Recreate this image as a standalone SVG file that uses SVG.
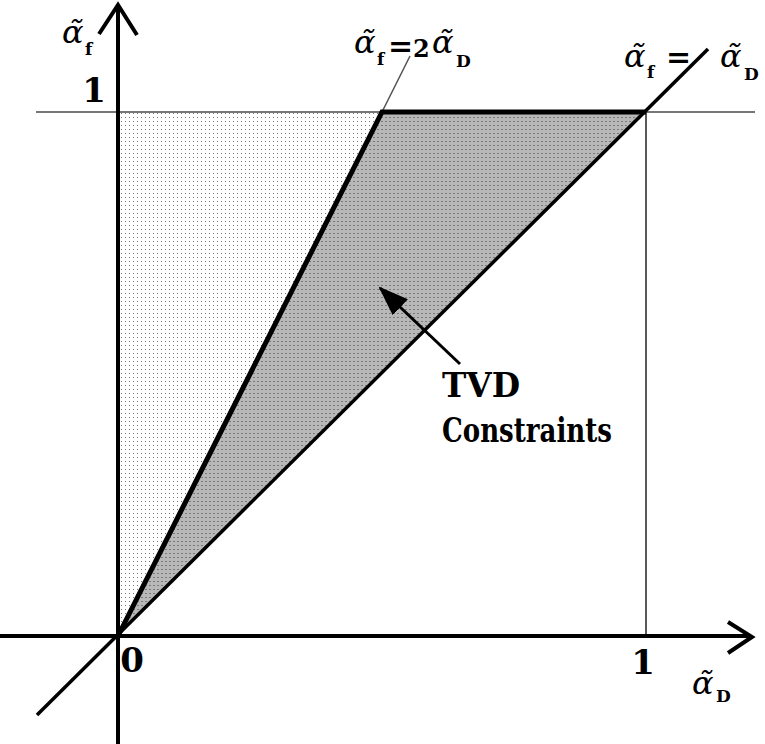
<svg xmlns="http://www.w3.org/2000/svg" width="765" height="744" viewBox="0 0 765 744">
<defs>
<style>
text{font-family:'DejaVu Serif',serif;fill:#000}
.al{font-style:italic;font-weight:normal;font-size:32px}
.sb{font-style:normal;font-weight:bold;font-size:17px}
.eq{font-style:normal;font-weight:bold;font-size:30px}
.two{font-style:normal;font-weight:bold;font-size:24px}
.num{font-weight:bold;font-size:34px}
.big{font-weight:bold;font-size:33px}
.axis{stroke:#000;stroke-width:4;fill:none}
.thick{stroke:#000;stroke-width:5;fill:none;stroke-linejoin:miter}
</style>
<pattern id="pl" width="4" height="4" patternUnits="userSpaceOnUse">
<rect width="4" height="4" fill="#ffffff"/>
<rect x="1" y="1" width="1" height="1" fill="#777"/>
</pattern>
<pattern id="pd" width="4" height="4" patternUnits="userSpaceOnUse">
<rect width="4" height="4" fill="#b8b8b8"/>
<rect x="1" y="1" width="2" height="1" fill="#7a7a7a"/>
</pattern>
<marker id="ah" markerWidth="30" markerHeight="24" refX="28" refY="12" orient="auto" markerUnits="userSpaceOnUse">
<path d="M0,1 L30,12 L0,23 Z" fill="#000"/>
</marker>
</defs>

<g id="regions">
<polygon id="light-region" points="118,112 382,112 118,636" fill="url(#pl)"/>
<polygon id="tvd-region" points="382,112 646,112 118,636" fill="url(#pd)"/>
</g>

<g id="connectors">
<line x1="36" y1="112" x2="755" y2="112" stroke="#777" stroke-width="2"/>
<line x1="646" y1="112" x2="646" y2="636" stroke="#222" stroke-width="1.5"/>
<line x1="382" y1="112" x2="410" y2="56" stroke="#555" stroke-width="1.5"/>
<line x1="37" y1="715" x2="708" y2="49" stroke="#000" stroke-width="3.5"/>
<polyline class="thick" points="118,636 382,112 646,112"/>
<line class="axis" x1="0" y1="636" x2="751" y2="636"/>
<polyline class="axis" points="728,622 752,637 728,653"/>
<line class="axis" x1="118" y1="744" x2="118" y2="6"/>
<polyline class="axis" points="99,34 118,5 137,35"/>
<line x1="460" y1="364" x2="380" y2="288" stroke="#000" stroke-width="3" marker-end="url(#ah)"/>
</g>

<g id="labels">
<text id="y-one" class="num" x="94" y="102" text-anchor="middle">1</text>
<text id="x-zero" class="num" x="132" y="672" text-anchor="middle">0</text>
<text id="x-one" class="num" x="643" y="674" text-anchor="middle">1</text>
<text id="y-label" class="al" x="62" y="43">α̃<tspan class="sb" x="85" y="55">f</tspan></text>
<text id="line2-label" class="al" x="354" y="53">α̃<tspan class="sb" x="377" y="65">f</tspan><tspan class="eq" x="388" y="56">=</tspan><tspan class="two" x="413" y="57">2</tspan><tspan x="432" y="53">α̃</tspan><tspan class="sb" x="456" y="67">D</tspan></text>
<text id="line1-label" class="al" x="624" y="67">α̃<tspan class="sb" x="647" y="78">f</tspan><tspan class="eq" x="666" y="67">=</tspan><tspan x="720" y="67">α̃</tspan><tspan class="sb" x="744" y="80">D</tspan></text>
<text id="x-label" class="al" x="692" y="694">α̃<tspan class="sb" x="716" y="702">D</tspan></text>
<text id="tvd" class="big" x="442" y="397" textLength="78" lengthAdjust="spacingAndGlyphs">TVD</text>
<text id="constraints" class="big" x="442" y="442" textLength="170" lengthAdjust="spacingAndGlyphs">Constraints</text>
</g>
</svg>
